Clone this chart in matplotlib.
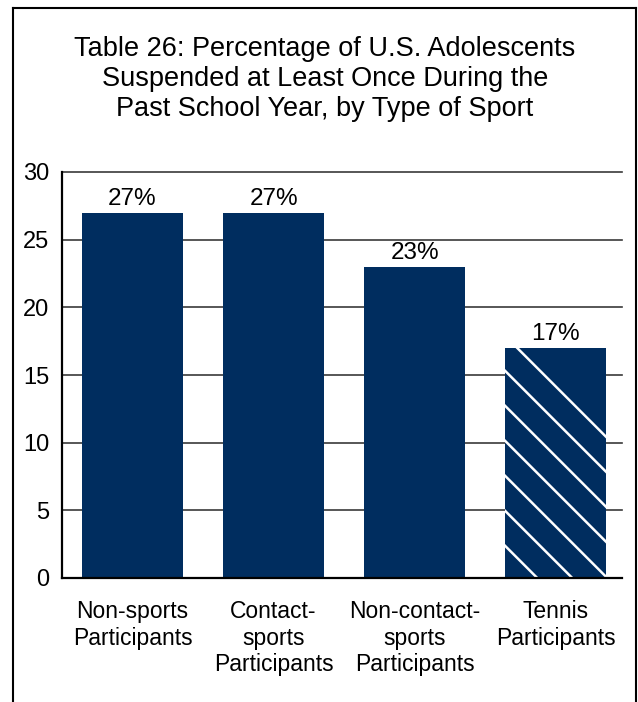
import matplotlib
matplotlib.use("Agg")
import matplotlib.pyplot as plt
from matplotlib.lines import Line2D
from matplotlib.transforms import IdentityTransform

plt.rcParams['font.family'] = ['Liberation Sans', 'DejaVu Sans']

# data
categories = ["Non-sports\nParticipants", "Contact-\nsports\nParticipants",
              "Non-contact-\nsports\nParticipants", "Tennis\nParticipants"]
values = [27, 27, 23, 17]
yticks = [0, 5, 10, 15, 20, 25, 30]
title = ("Table 26: Percentage of U.S. Adolescents\n"
         "Suspended at Least Once During the\n"
         "Past School Year, by Type of Sport")

navy = '#002d5f'

fig = plt.figure(figsize=(6.38, 7.02), dpi=100)
ax = fig.add_axes([62 / 638, 1 - 578 / 702, 560 / 638, 406 / 702])

x = list(range(len(values)))
bars = ax.bar(x, values, width=0.716, color=navy, zorder=3)
ax.bar_label(bars, labels=[f"{v}%" for v in values], padding=2, fontsize=17.5)

ax.set_xlim(-0.5, 3.47)
ax.set_ylim(0, 30)
ax.set_yticks(yticks)
ax.set_xticks(x)
ax.set_xticklabels(categories, fontsize=16.5, linespacing=1.2, va='top')
ax.tick_params(axis='both', length=0)
ax.tick_params(axis='y', labelsize=17, pad=9)
ax.tick_params(axis='x', pad=16)

for t in yticks[1:]:
    ax.axhline(t, color='#3a3a3a', lw=1.2, zorder=1, clip_on=False)

for s in ['top', 'right']:
    ax.spines[s].set_visible(False)
ax.spines['left'].set_linewidth(1.6)
ax.spines['bottom'].set_linewidth(1.6)
ax.spines['bottom'].set_zorder(4)

# outer frame (open at bottom)
fw, fh = 638, 702
fig.add_artist(Line2D([13 / fw, 636 / fw], [1 - 8 / fh, 1 - 8 / fh],
                      transform=fig.transFigure, color='black', lw=1.5))
fig.add_artist(Line2D([13 / fw, 13 / fw], [1 - 8 / fh, 0], transform=fig.transFigure,
                      color='black', lw=1.5))
fig.add_artist(Line2D([636 / fw, 636 / fw], [1 - 8 / fh, 0], transform=fig.transFigure,
                      color='black', lw=1.5))

fig.text(325 / fw, 1 - 79 / fh, title, ha='center', va='center', fontsize=19.5,
         linespacing=1.22)

# white diagonal stripes on the tennis bar
fig.canvas.draw()
tb = bars[3]
bb = tb.get_window_extent()
step = 35
c = bb.x0 + bb.y1 + 12
while c > bb.x0 + bb.y0 - 2 * bb.width:
    ln = Line2D([bb.x0 - 50, bb.x1 + 50], [c - (bb.x0 - 50), c - (bb.x1 + 50)],
                transform=IdentityTransform(), color='white', lw=1.8, zorder=4)
    ax.add_artist(ln)
    ln.set_clip_path(tb)
    c -= step

fig.savefig("out.png", dpi=100)
